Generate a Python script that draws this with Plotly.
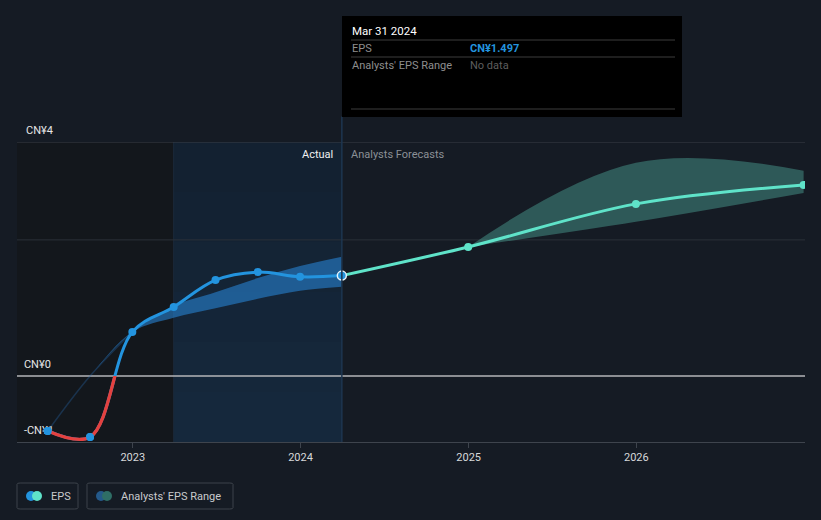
import plotly.graph_objects as go

# ---- data ----
eps_dates = ["2022-06-30", "2022-09-30", "2022-12-31", "2023-03-31", "2023-06-30",
             "2023-09-30", "2023-12-31", "2024-03-31"]
eps_vals = [-0.82, -0.91, 0.657, 1.03, 1.43, 1.55, 1.48, 1.497]

past_range_dates = ["2022-06-30", "2022-09-30", "2022-12-31", "2023-03-31", "2023-06-30",
                    "2023-09-30", "2023-12-31", "2024-03-31"]
past_range_low = [-0.82, 0.0, 0.657, 0.87, 1.01, 1.15, 1.27, 1.33]
past_range_high = [-0.82, 0.0, 0.657, 1.045, 1.25, 1.46, 1.64, 1.78]

fc_dates = ["2024-03-31", "2024-12-31", "2025-12-31", "2026-12-31"]
fc_vals = [1.497, 1.925, 2.567, 2.85]

fc_range_dates = ["2024-12-31", "2025-12-31", "2026-12-31"]
fc_range_low = [1.925, 2.30, 2.73]
fc_range_high = [1.925, 3.18, 3.06]

y_labels = ["CN¥4", "CN¥0", "-CN¥1"]
y_label_vals = [3.49, 0, -0.985]
grid_vals = [3.49, 2.03]
year_ticks = ["2023-01-01", "2024-01-01", "2025-01-01", "2026-01-01"]
year_text = ["2023", "2024", "2025", "2026"]

X_RANGE = ["2022-04-24", "2027-01-03"]
Y_RANGE = [-0.985, 3.49]
LABEL_X = "2022-05-09"
LABEL_LIFT = 5 / 67.0   # ~5px in data units

BG = "#151b24"
BLUE = "#2394df"
RED = "#e4413f"
AQUA = "#5fe3c9"
FONT = "Roboto"


def px_x(p):
    return (p - 17) / 788.0


def px_y(p):
    return (442 - p) / 300.0


fig = go.Figure()

# y value labels: inside the range as text marks (so data markers sit on top of them),
# otherwise as annotations
in_lbl = [(t, v + LABEL_LIFT) for t, v in zip(y_labels, y_label_vals) if v + LABEL_LIFT <= Y_RANGE[1]]
out_lbl = [(t, v) for t, v in zip(y_labels, y_label_vals) if v + LABEL_LIFT > Y_RANGE[1]]
fig.add_trace(go.Scatter(x=[LABEL_X] * len(in_lbl), y=[v for _, v in in_lbl],
                         mode="text", text=[t for t, _ in in_lbl], textposition="top right",
                         cliponaxis=False,
                         textfont=dict(family=FONT, size=11, color="#e6e6e6"),
                         hoverinfo="skip", showlegend=False))

# past analyst range band
fig.add_trace(go.Scatter(x=past_range_dates, y=past_range_low, mode="lines",
                         line=dict(width=0, shape="spline"), hoverinfo="skip", showlegend=False))
fig.add_trace(go.Scatter(x=past_range_dates, y=past_range_high, mode="lines",
                         line=dict(width=0, shape="spline"), fill="tonexty",
                         fillcolor="rgba(38,128,205,0.62)", hoverinfo="skip", showlegend=False))
# faint lead-in line of the range
fig.add_trace(go.Scatter(x=past_range_dates[:3], y=past_range_high[:3], mode="lines",
                         line=dict(width=1.5, color="rgba(40,110,180,0.32)", shape="spline"),
                         hoverinfo="skip", showlegend=False))

# forecast range band
fig.add_trace(go.Scatter(x=fc_range_dates, y=fc_range_low, mode="lines",
                         line=dict(width=0, shape="spline"), hoverinfo="skip", showlegend=False))
fig.add_trace(go.Scatter(x=fc_range_dates, y=fc_range_high, mode="lines",
                         line=dict(width=0, shape="spline", smoothing=1.1), fill="tonexty",
                         fillcolor="rgba(72,152,140,0.5)", hoverinfo="skip", showlegend=False))

# forecast line
fig.add_trace(go.Scatter(x=fc_dates, y=fc_vals, mode="lines+markers",
                         line=dict(width=3, color=AQUA, shape="spline"),
                         marker=dict(size=8, color=AQUA), showlegend=False))

# EPS line (blue)
fig.add_trace(go.Scatter(x=eps_dates, y=eps_vals, mode="lines+markers",
                         line=dict(width=3, color=BLUE, shape="spline"),
                         marker=dict(size=8, color=BLUE), showlegend=False))
# last actual point highlighted
fig.add_trace(go.Scatter(x=eps_dates[-1:], y=eps_vals[-1:], mode="markers",
                         marker=dict(size=9, color=BLUE, line=dict(color="#e8f2fa", width=1.5)),
                         showlegend=False))

# negative part in red, clipped by a sub-axis covering only values below zero
fig.add_trace(go.Scatter(x=eps_dates, y=eps_vals, mode="lines", xaxis="x2", yaxis="y2",
                         line=dict(width=3.3, color=RED, shape="spline"), showlegend=False))
neg_x = [d for d, v in zip(eps_dates, eps_vals) if v < 0]
neg_y = [v for v in eps_vals if v < 0]
fig.add_trace(go.Scatter(x=neg_x, y=neg_y, mode="markers", xaxis="x2", yaxis="y2",
                         marker=dict(size=8, color=BLUE), cliponaxis=False, showlegend=False))

neg_frac = (0 - Y_RANGE[0]) / (Y_RANGE[1] - Y_RANGE[0])

shapes = []
# dark left region and highlighted actual region
shapes.append(dict(type="rect", xref="x", yref="paper", x0=X_RANGE[0], x1="2023-03-31", y0=0, y1=1,
                   fillcolor="#13171c", line_width=0, layer="below"))
n_steps = 6
for i in range(n_steps):
    t = i / (n_steps - 1)
    r = int(round(21 + (19 - 21) * t))
    g = int(round(40 + (33 - 40) * t))
    b = int(round(60 + (49 - 60) * t))
    shapes.append(dict(type="rect", xref="x", yref="paper", x0="2023-03-31", x1="2024-03-31",
                       y0=i / n_steps, y1=(i + 1) / n_steps,
                       fillcolor=f"rgb({r},{g},{b})", line_width=0, layer="below"))
shapes.append(dict(type="line", xref="x", yref="paper", x0="2023-03-31", x1="2023-03-31", y0=0, y1=1,
                   line=dict(color="#1b2a3b", width=1), layer="below"))
# gridlines
shapes.append(dict(type="line", xref="paper", yref="y", x0=0, x1=1, y0=grid_vals[0], y1=grid_vals[0],
                   line=dict(color="#3a3f47", width=1), layer="below"))
shapes.append(dict(type="line", xref="paper", yref="y", x0=0, x1=1, y0=grid_vals[1], y1=grid_vals[1],
                   line=dict(color="#2b3139", width=1), layer="below"))
shapes.append(dict(type="line", xref="paper", yref="y", x0=0, x1=1, y0=0, y1=0,
                   line=dict(color="#b4b6b8", width=1.5), layer="below"))
# crosshair line
shapes.append(dict(type="line", xref="x", yref="paper", x0="2024-03-31", x1="2024-03-31", y0=0, y1=1.085,
                   line=dict(color="#1d3650", width=1.5), layer="above"))

# tooltip box (paper coords derived from pixel layout: plot x 17..805, y 142..442)
shapes.append(dict(type="rect", xref="paper", yref="paper", x0=px_x(342), x1=px_x(682),
                   y0=px_y(117), y1=px_y(16), fillcolor="#000000", line_width=0, layer="above"))
for yy in (40, 57, 109):
    shapes.append(dict(type="line", xref="paper", yref="paper", x0=px_x(351), x1=px_x(675),
                       y0=px_y(yy), y1=px_y(yy), line=dict(color="#3c3c3c", width=1), layer="above"))


# legend boxes
def rounded_rect(x0, y0, x1, y1, r):
    return (f"M {x0+r},{y0} L {x1-r},{y0} Q {x1},{y0} {x1},{y0+r} L {x1},{y1-r} "
            f"Q {x1},{y1} {x1-r},{y1} L {x0+r},{y1} Q {x0},{y1} {x0},{y1-r} "
            f"L {x0},{y0+r} Q {x0},{y0} {x0+r},{y0} Z")


for (a, b) in ((17, 78), (87, 233)):
    shapes.append(dict(type="path", xref="paper", yref="paper",
                       path=rounded_rect(px_x(a), px_y(509), px_x(b), px_y(483), 0.004),
                       line=dict(color="#3d434b", width=1), fillcolor="rgba(0,0,0,0)"))
for (cx, col) in ((31, BLUE), (37, AQUA), (101, "#24598a"), (107, "#2f6e66")):
    shapes.append(dict(type="circle", xref="paper", yref="paper",
                       x0=px_x(cx - 5), x1=px_x(cx + 5), y0=px_y(501), y1=px_y(491),
                       fillcolor=col, line_width=0))


def note(text, x, y, xanchor="left", color="#8e8e8e", size=11, xref="paper", xshift=0):
    return dict(text=text, xref=xref, yref="paper", x=x, y=y, xanchor=xanchor, yanchor="middle",
                xshift=xshift, showarrow=False, font=dict(family=FONT, size=size, color=color))


annotations = [
    note("Actual", "2024-03-31", px_y(154), xanchor="right", color="#f0f0f0", xref="x", xshift=-7),
    note("Analysts Forecasts", "2024-03-31", px_y(154), color="#8b9096", xref="x", xshift=7),
    note("Mar 31 2024", px_x(350), px_y(31), color="#ffffff", size=11.5),
    note("EPS", px_x(350), px_y(48)),
    note("<b>CN¥1.497</b>", px_x(468), px_y(48), color=BLUE),
    note("Analysts' EPS Range", px_x(350), px_y(66)),
    note("No data", px_x(468), px_y(66), color="#5e5e5e"),
    note("EPS", px_x(49), px_y(496), color="#c8cacc"),
    note("Analysts' EPS Range", px_x(119), px_y(496), color="#c8cacc"),
]
for t, v in out_lbl:
    annotations.append(dict(text=t, xref="x", yref="y", x=LABEL_X, y=v, xanchor="left",
                            yanchor="bottom", yshift=3, showarrow=False,
                            font=dict(family=FONT, size=11, color="#e6e6e6")))

fig.update_layout(
    width=821, height=520,
    margin=dict(l=17, r=16, t=142, b=78),
    paper_bgcolor=BG, plot_bgcolor="rgba(0,0,0,0)",
    showlegend=False,
    hovermode=False,
    xaxis=dict(type="date", range=X_RANGE, tickvals=year_ticks, ticktext=year_text,
               showgrid=False, zeroline=False, showline=True, linecolor="#3e444d", linewidth=1,
               ticks="outside", ticklen=5, tickcolor="#3e444d",
               tickfont=dict(family=FONT, size=11, color="#d6d8da")),
    yaxis=dict(range=Y_RANGE, showgrid=False, zeroline=False, showticklabels=False, ticks=""),
    xaxis2=dict(type="date", range=X_RANGE, anchor="y2", overlaying="x", visible=False),
    yaxis2=dict(range=[Y_RANGE[0], 0], domain=[0, neg_frac], anchor="x2", visible=False),
    shapes=shapes,
    annotations=annotations,
)

fig.write_html("out.html")
